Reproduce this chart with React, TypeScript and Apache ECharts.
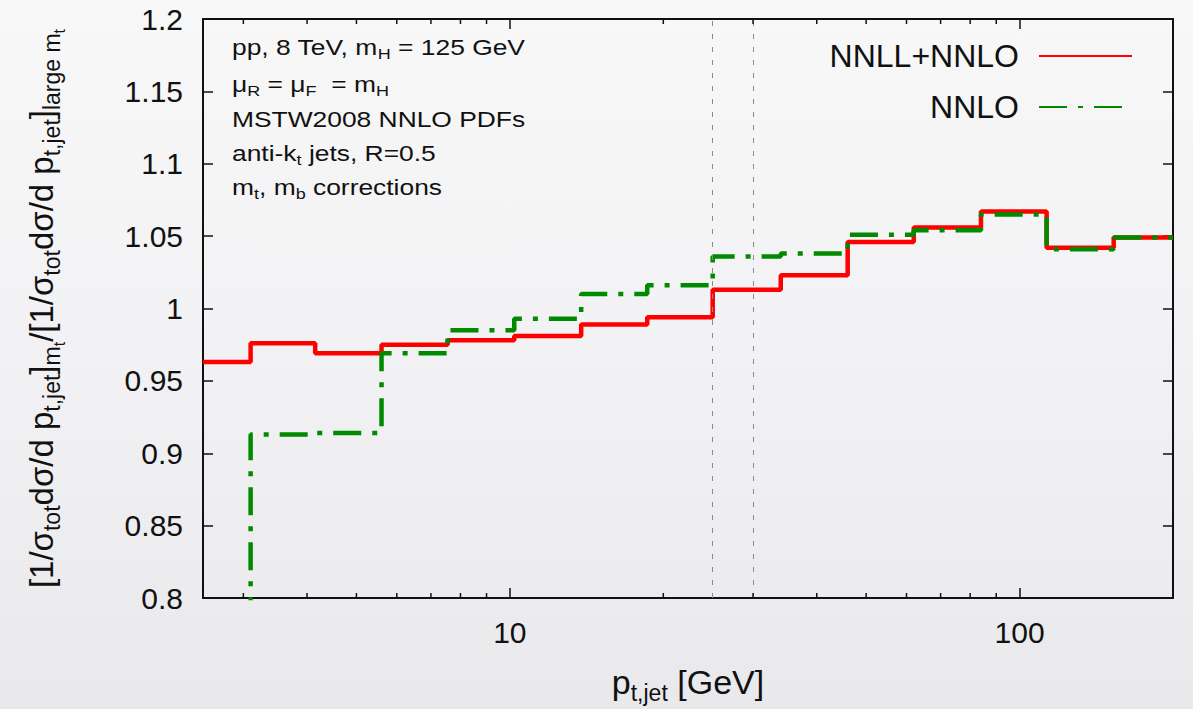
import React, { useEffect, useRef } from 'react';
import * as echarts from 'echarts';

// ---- data ----
const binEdges = [2.5, 3.1, 4.15, 5.6, 7.55, 10.2, 13.8, 18.6, 25, 34, 46, 62, 84, 113, 153, 200];
const nnllNnlo = [0.963, 0.976, 0.969, 0.975, 0.978, 0.981, 0.989, 0.994, 1.013, 1.023, 1.046, 1.056, 1.067, 1.042, 1.049];
const nnlo = [0.7, 0.913, 0.914, 0.969, 0.985, 0.993, 1.01, 1.016, 1.036, 1.038, 1.051, 1.054, 1.065, 1.041, 1.049];
const seriesNames = ['NNLL+NNLO', 'NNLO'];
const refLines = [25, 30];
const xRange = [2.5, 200];
const yRange = [0.8, 1.2];
const yStep = 0.05;
const minorTicks = [3, 4, 5, 6, 7, 8, 9, 20, 30, 40, 50, 60, 70, 80, 90];
const infoLines = [
  '{a|pp, 8 TeV, m}{s|H}{a| = 125 GeV}',
  '{a|μ}{s|R}{a| = μ}{s|F}{a|  = m}{s|H}',
  '{a|MSTW2008 NNLO PDFs}',
  '{a|anti-k}{s|t}{a| jets, R=0.5}',
  '{a|m}{s|t}{a|, m}{s|b}{a| corrections}',
];
const xTitle = '{n|p}{s|t,jet}{n| [GeV]}';
const yTitle =
  '{n|[1/σ}{s|tot}{n|dσ/d p}{s|t,jet}{n|]}{s|m}{ss|t}{n|/[1/σ}{s|tot}{n|dσ/d p}{s|t,jet}{n|]}{s|large m}{ss|t}';

const FONT = '"Liberation Sans", Arial, Helvetica, sans-serif';
const INK = '#111';

function toSteps(values: number[]) {
  const pts = values.map((v, i) => [binEdges[i], v]);
  pts.push([binEdges[binEdges.length - 1], values[values.length - 1]]);
  return pts;
}

export default function App() {
  const ref = useRef<HTMLDivElement>(null);
  useEffect(() => {
    if (!ref.current) return;
    const chart = echarts.init(ref.current, null, { renderer: 'svg' });

    const logLabel = (v: number) => {
      const l = Math.log10(v);
      return Math.abs(l - Math.round(l)) < 1e-6 ? String(Math.round(v)) : '';
    };

    const xBase = {
      type: 'log',
      logBase: 10,
      min: xRange[0],
      max: xRange[1],
      splitLine: { show: false },
      axisLine: { show: true, lineStyle: { color: INK, width: 2 } },
      axisTick: { show: true, inside: true, length: 10, lineStyle: { color: INK, width: 1.5 } },
    };
    const yBase = {
      type: 'value',
      min: yRange[0],
      max: yRange[1],
      interval: yStep,
      splitLine: { show: false },
      axisLine: { show: true, lineStyle: { color: INK, width: 2 } },
      axisTick: { show: true, inside: true, length: 10, lineStyle: { color: INK, width: 1.5 } },
    };

    const infoGraphics = infoLines.map((t, i) => ({
      type: 'text',
      x: 232,
      y: [47, 84, 119, 153, 187][i],
      scaleX: 1.2,
      silent: true,
      style: {
        text: t,
        verticalAlign: 'middle',
        rich: {
          a: { fontSize: 22, fontFamily: FONT, fill: INK },
          s: { fontSize: 15, fontFamily: FONT, fill: INK, padding: [15, 0, 0, 0] },
        },
      },
    }));

    const option: any = {
      animation: false,
      backgroundColor: 'transparent',
      grid: { left: 203, top: 19, right: 20, bottom: 109, containLabel: false },
      xAxis: [
        {
          ...xBase,
          position: 'bottom',
          axisLabel: {
            show: true,
            formatter: logLabel,
            fontSize: 30,
            fontFamily: FONT,
            color: INK,
            margin: 19,
            showMinLabel: false,
            showMaxLabel: false,
          },
          name: xTitle,
          nameLocation: 'middle',
          nameGap: 62,
          nameTextStyle: {
            rich: {
              n: { fontSize: 34, fontFamily: FONT, color: INK },
              s: { fontSize: 23, fontFamily: FONT, color: INK, padding: [21, 0, 0, 0] },
            },
          },
        },
        { ...xBase, position: 'top', axisLabel: { show: false } },
      ],
      yAxis: [
        {
          ...yBase,
          position: 'left',
          axisLabel: { show: true, fontSize: 30, fontFamily: FONT, color: INK, margin: 20 },
          name: yTitle,
          nameLocation: 'middle',
          nameRotate: 90,
          nameGap: 136,
          nameTextStyle: {
            rich: {
              n: { fontSize: 33, fontFamily: FONT, color: INK },
              s: { fontSize: 23, fontFamily: FONT, color: INK, padding: [21, 0, 0, 0] },
              ss: { fontSize: 16, fontFamily: FONT, color: INK, padding: [36, 0, 0, 0] },
            },
          },
        },
        { ...yBase, position: 'right', axisLabel: { show: false } },
      ],
      legend: seriesNames.map((n, i) => ({
        data: [n],
        orient: 'vertical',
        align: 'right',
        right: 60,
        top: [40, 91][i],
        padding: 0,
        itemWidth: 93,
        itemHeight: 20,
        selectedMode: false,
        itemStyle: { opacity: 0 },
        textStyle: { fontSize: 32, fontFamily: FONT, color: INK, padding: [0, 15, 0, 0] },
      })),
      graphic: infoGraphics,
      series: [
        {
          name: seriesNames[0],
          type: 'line',
          step: 'end',
          symbol: 'none',
          data: toSteps(nnllNnlo),
          lineStyle: { color: '#ff0000', width: 4.5, cap: 'butt' },
          itemStyle: { color: '#ff0000' },
          clip: true,
          z: 3,
          markLine: {
            silent: true,
            symbol: 'none',
            label: { show: false },
            lineStyle: { color: '#8a8a8a', width: 1, type: [5, 8] },
            data: refLines.map((v) => ({ xAxis: v })),
          },
        },
        {
          name: seriesNames[1],
          type: 'line',
          step: 'end',
          symbol: 'none',
          data: toSteps(nnlo),
          lineStyle: { color: '#008a00', width: 4.5, type: [28, 11, 5, 11], cap: 'butt' },
          itemStyle: { color: '#008a00' },
          clip: true,
          z: 4,
        },
        {
          type: 'custom',
          silent: true,
          data: minorTicks.map((v) => [v, yRange[0]]),
          encode: { x: 0, y: 1 },
          renderItem: (params: any, api: any) => {
            const v = api.value(0);
            const b = api.coord([v, yRange[0]]);
            const t = api.coord([v, yRange[1]]);
            const st = { stroke: INK, lineWidth: 1.5 };
            return {
              type: 'group',
              children: [
                { type: 'line', shape: { x1: b[0], y1: b[1], x2: b[0], y2: b[1] - 5 }, style: st },
                { type: 'line', shape: { x1: t[0], y1: t[1], x2: t[0], y2: t[1] + 5 }, style: st },
              ],
            };
          },
          z: 5,
        },
      ],
    };
    chart.setOption(option);
    return () => chart.dispose();
  }, []);

  return (
    <div
      style={{
        position: 'absolute',
        left: 0,
        top: 0,
        width: 1193,
        height: 709,
        background: 'linear-gradient(to bottom, #f8f8f9 0%, #f1f1f3 55%, #e9e9ec 100%)',
      }}
    >
      <div ref={ref} style={{ width: 1193, height: 709 }} />
    </div>
  );
}
